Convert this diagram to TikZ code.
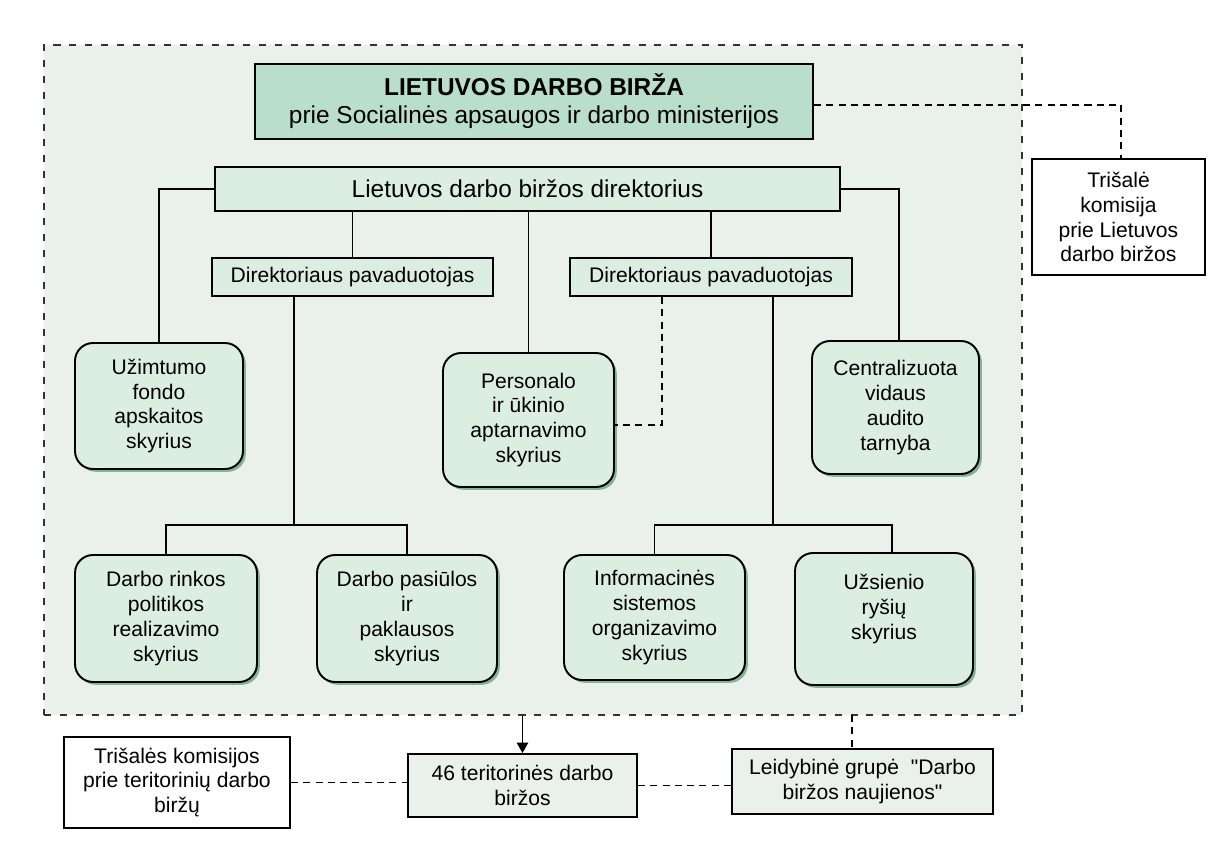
\documentclass[tikz,border=0pt]{standalone}
\usepackage{fontspec}
\setmainfont{Liberation Sans}[Ligatures=TeXOff]
\usetikzlibrary{shadows,arrows.meta}
\definecolor{bgfill}{HTML}{EAF1EB}
\definecolor{titlefill}{HTML}{B9DECB}
\definecolor{boxfill}{HTML}{DCEDE2}
\definecolor{shadowgreen}{HTML}{7FB595}
\definecolor{dashgray}{HTML}{333333}
\tikzset{
  txt/.style={font=\fontsize{12}{14.2}\selectfont, align=center},
  sqbox/.style={txt, draw=black, line width=1.1pt, fill=boxfill, inner sep=0pt},
  rbox/.style={txt, draw=black, line width=1.1pt, fill=boxfill, inner sep=0pt,
     rounded corners=0.36cm,
     drop shadow={shadow xshift=1.6pt, shadow yshift=-1.6pt, fill=shadowgreen, opacity=1}},
  wbox/.style={txt, draw=black, line width=1.1pt, fill=white, inner sep=0pt},
  lbox/.style={txt, draw=black, line width=1.1pt, fill=bgfill, inner sep=0pt},
  conn/.style={line width=1.1pt, draw=black},
  dconn/.style={line width=1.1pt, draw=black, dash pattern=on 4pt off 3pt},
  outerbox/.style={draw=dashgray, fill=bgfill, line width=1.2pt, dash pattern=on 4pt off 5pt, inner sep=0pt}
}
\begin{document}
\begin{tikzpicture}[x=0.02cm, y=-0.02cm]
\useasboundingbox[fill=white] (0,0) rectangle (1225,852);
% outer dashed region
\node[outerbox, minimum width=19.56cm, minimum height=13.4cm] (outer) at (533,380) {};
% title
\node[sqbox, fill=titlefill, minimum width=11.16cm, minimum height=1.5cm,
      font=\fontsize{13.9}{15.9}\selectfont] (title) at (534,101.5)
      {\textbf{LIETUVOS DARBO BIRŽA}\\prie Socialinės apsaugos ir darbo ministerijos};
% director and deputies
\node[sqbox, minimum width=12.5cm, minimum height=0.88cm, font=\fontsize{13.9}{15.9}\selectfont] (dir) at (527.5,189) {Lietuvos darbo biržos direktorius};
\node[sqbox, minimum width=5.62cm, minimum height=0.76cm] (ldep) at (352.5,277) {Direktoriaus pavaduotojas};
\node[sqbox, minimum width=5.64cm, minimum height=0.76cm] (rdep) at (711,277) {Direktoriaus pavaduotojas};
% departments
\node[rbox, minimum width=3.36cm, minimum height=2.52cm] (uzim) at (159,406) {Užimtumo\\fondo\\apskaitos\\skyrius};
\node[rbox, minimum width=3.42cm, minimum height=2.68cm] (pers) at (528.5,420) {Personalo\\ir ūkinio\\aptarnavimo\\skyrius};
\node[rbox, minimum width=3.34cm, minimum height=2.66cm] (cent) at (895.5,407.5) {Centralizuota\\vidaus\\audito\\tarnyba};
\node[rbox, minimum width=3.64cm, minimum height=2.54cm] (drink) at (166,618.5) {Darbo rinkos\\politikos\\realizavimo\\skyrius};
\node[rbox, minimum width=3.6cm, minimum height=2.54cm] (dpas) at (407,618.5) {Darbo pasiūlos\\ir\\paklausos\\skyrius};
\node[rbox, minimum width=3.62cm, minimum height=2.5cm] (info) at (654.5,617.5) {Informacinės\\sistemos\\organizavimo\\skyrius};
\node[rbox, minimum width=3.56cm, minimum height=2.64cm] (uzs) at (884,619) {Užsienio\\ryšių\\skyrius\\\mbox{}};
% outside boxes
\node[wbox, minimum width=3.46cm, minimum height=2.32cm] (tris) at (1118.5,217) {Trišalė\\komisija\\prie Lietuvos\\darbo biržos};
\node[wbox, minimum width=4.52cm, minimum height=1.82cm] (trisk) at (177,782.5) {Trišalės komisijos\\prie teritorinių darbo\\biržų};
\node[lbox, minimum width=4.58cm, minimum height=1.26cm] (b46) at (522.5,785.5) {46 teritorinės darbo\\biržos};
\node[lbox, minimum width=5.22cm, minimum height=1.3cm] (leid) at (862.5,781.5) {Leidybinė grupė~~"Darbo\\biržos naujienos"};
% coordinates
\coordinate (lj) at (294,525);
\coordinate (rj) at (773,525);
\coordinate (dj) at (662,425);
\coordinate (tc) at (1121,105);
\coordinate (lv) at (852,715);
% solid connectors
\draw[conn] (dir.west) -| (uzim.north);
\draw[conn] (dir.east) -| ([xshift=0.07cm]cent.north);
\draw[conn] (dir.south -| ldep.north) -- (ldep.north);
\draw[conn] (dir.south -| rdep.north) -- (rdep.north);
\draw[conn] (dir.south -| pers.north) -- (pers.north);
\draw[conn] (ldep.south -| lj) -- (lj);
\draw[conn] (drink.north) |- (lj) -| (dpas.north);
\draw[conn] (rdep.south -| rj) -- (rj);
\draw[conn] (info.north) |- (rj) -| ([xshift=0.16cm]uzs.north);
\draw[conn, -{Triangle[length=6pt,width=6.5pt]}] (b46.north |- outer.south) -- (b46.north);
% dashed connectors
\draw[dconn] (rdep.south -| dj) -- (dj) -- (pers.east |- dj);
\draw[dconn] (title.east |- tc) -- (tc) -- (tris.north -| tc);
\draw[dconn] (lv) -- (lv |- leid.north);
\draw[dconn] (trisk.east) -- (trisk.east -| b46.west);
\draw[dconn] (b46.east) -- (b46.east -| leid.west);
\end{tikzpicture}
\end{document}
